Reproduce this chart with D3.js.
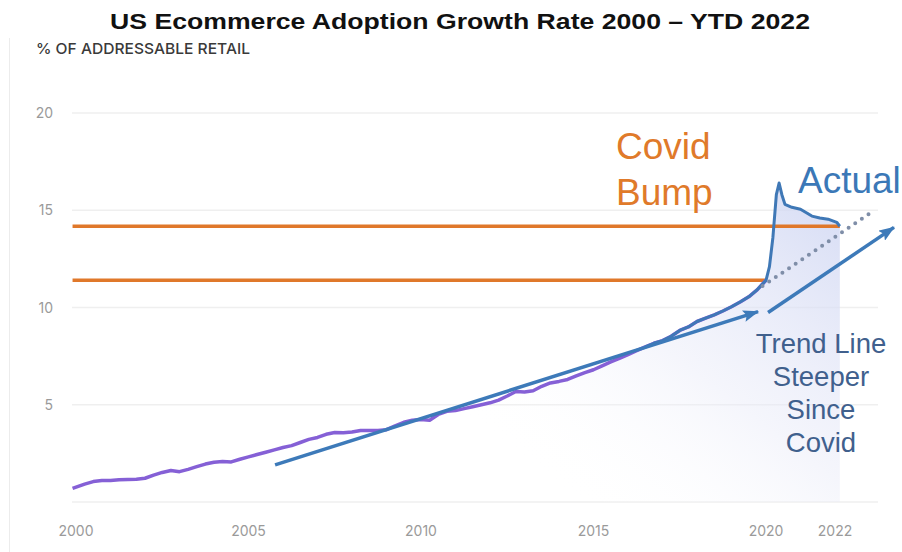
<!DOCTYPE html>
<html>
<head>
<meta charset="utf-8">
<script src="https://cdn.jsdelivr.net/npm/d3@7"></script>
<style>
  body { margin: 0; background: #fff; }
  svg { display: block; }
</style>
</head>
<body>
<script>
// US ecommerce share of addressable retail (quarterly-ish)
const years = [
  1999.9, 2000.25, 2000.5, 2000.75, 2001, 2001.25, 2001.5, 2001.75,
  2002, 2002.25, 2002.5, 2002.75, 2003, 2003.25, 2003.5, 2003.75,
  2004, 2004.25, 2004.5, 2004.75, 2005, 2005.25, 2005.5, 2005.75,
  2006, 2006.25, 2006.5, 2006.75, 2007, 2007.25, 2007.5, 2007.75,
  2008, 2008.25, 2008.5, 2008.75, 2009, 2009.25, 2009.5, 2009.75,
  2010, 2010.25, 2010.5, 2010.75, 2011, 2011.25, 2011.5, 2011.75,
  2012, 2012.25, 2012.5, 2012.75, 2013, 2013.25, 2013.5, 2013.75,
  2014, 2014.25, 2014.5, 2014.75, 2015, 2015.25, 2015.5, 2015.75,
  2016, 2016.25, 2016.5, 2016.75, 2017, 2017.25, 2017.5, 2017.75,
  2018, 2018.25, 2018.5, 2018.75, 2019, 2019.25, 2019.5, 2019.75,
  2020, 2020.1, 2020.2, 2020.3, 2020.38, 2020.46, 2020.55, 2020.75,
  2021, 2021.33, 2021.56, 2021.8, 2022.05, 2022.14
];
const shares = [
  0.70, 0.92, 1.05, 1.10, 1.10, 1.14, 1.16, 1.17,
  1.22, 1.38, 1.52, 1.62, 1.56, 1.68, 1.82, 1.95,
  2.04, 2.08, 2.06, 2.20, 2.32, 2.44, 2.56, 2.68,
  2.80, 2.90, 3.06, 3.22, 3.32, 3.48, 3.57, 3.56,
  3.60, 3.68, 3.67, 3.68, 3.72, 3.92, 4.10, 4.20,
  4.24, 4.20, 4.50, 4.66, 4.70, 4.80, 4.90, 5.00,
  5.10, 5.24, 5.45, 5.68, 5.66, 5.72, 5.95, 6.12,
  6.20, 6.30, 6.48, 6.65, 6.80, 7.00, 7.20, 7.38,
  7.58, 7.78, 7.98, 8.16, 8.30, 8.52, 8.82, 9.00,
  9.28, 9.45, 9.62, 9.82, 10.04, 10.28, 10.55, 10.92,
  11.40, 12.10, 13.60, 15.80, 16.40, 15.80, 15.30, 15.15,
  15.05, 14.70, 14.60, 14.54, 14.38, 14.18
];

const xTickYears = [2000, 2005, 2010, 2015, 2020, 2022];
const yTickValues = [5, 10, 15, 20];
const gridValues = [0, 5, 10, 15, 20];

// covid bump levels (pre-covid level and current level)
const bumpLevels = [
  { value: 11.40, until: 2020 },
  { value: 14.18, until: 2022.14 }
];
// hand drawn trend arrows [from, to] as [year, value]
const trendArrows = [
  [[2005.77, 1.91], [2019.77, 9.79]],
  [[2020.06, 9.74], [2023.71, 14.12]]
];
const dottedTrend = [[2019.9, 11.1], [2023.1, 14.95]];
const blueFrom = 2016.5;

const data = years.map((yr, i) => ({ year: yr, value: shares[i] }));

const svg = d3.select('body').append('svg')
  .attr('width', 902)
  .attr('height', 552);

const x = d3.scaleLinear().domain([2000, 2022]).range([76, 835]);
const y = d3.scaleLinear().domain([0, 20]).range([502, 113]);

const defs = svg.append('defs');
const grad = defs.append('linearGradient')
  .attr('id', 'fillGrad')
  .attr('gradientUnits', 'userSpaceOnUse')
  .attr('x1', 820).attr('y1', 190)
  .attr('x2', 580).attr('y2', 505);
grad.append('stop').attr('offset', 0).attr('stop-color', '#d0d7f3').attr('stop-opacity', 0.85);
grad.append('stop').attr('offset', 0.55).attr('stop-color', '#e8eaf8').attr('stop-opacity', 0.45);
grad.append('stop').attr('offset', 1).attr('stop-color', '#ffffff').attr('stop-opacity', 0);

defs.append('marker')
  .attr('id', 'head')
  .attr('markerUnits', 'userSpaceOnUse')
  .attr('viewBox', '0 0 16 12')
  .attr('refX', 15).attr('refY', 6)
  .attr('markerWidth', 16).attr('markerHeight', 12)
  .attr('orient', 'auto')
  .append('path')
  .attr('d', 'M0,0 L16,6 L0,12 L3,6 Z')
  .attr('fill', '#3d7ab9');

// faint frame line on the left
svg.append('line')
  .attr('x1', 9.5).attr('x2', 9.5)
  .attr('y1', 38).attr('y2', 552)
  .attr('stroke', '#ececec');

// gridlines
svg.selectAll('line.grid')
  .data(gridValues)
  .enter()
  .append('line')
  .attr('class', 'grid')
  .attr('x1', 72).attr('x2', 878)
  .attr('y1', d => y(d)).attr('y2', d => y(d))
  .attr('stroke', '#efefef')
  .attr('stroke-width', 1.5);

// y labels
svg.selectAll('text.ylab')
  .data(yTickValues)
  .enter()
  .append('text')
  .attr('class', 'ylab')
  .attr('x', 53)
  .attr('y', d => y(d) + 5)
  .attr('text-anchor', 'end')
  .attr('font-family', 'Inter, sans-serif')
  .attr('font-size', 14)
  .attr('fill', '#9a9a9a')
  .text(d => d);

// x labels
svg.selectAll('text.xlab')
  .data(xTickYears)
  .enter()
  .append('text')
  .attr('class', 'xlab')
  .attr('x', d => x(d))
  .attr('y', 536)
  .attr('text-anchor', 'middle')
  .attr('font-family', 'Inter, sans-serif')
  .attr('font-size', 14)
  .attr('fill', '#9a9a9a')
  .text(d => d);

// area under the curve
const area = d3.area()
  .x(d => x(d.year))
  .y0(y(0))
  .y1(d => y(d.value));
svg.append('path')
  .datum(data)
  .attr('d', area)
  .attr('fill', 'url(#fillGrad)');

// orange covid bump levels
svg.selectAll('line.bump')
  .data(bumpLevels)
  .enter()
  .append('line')
  .attr('class', 'bump')
  .attr('x1', x(1999.9)).attr('x2', d => x(d.until))
  .attr('y1', d => y(d.value)).attr('y2', d => y(d.value))
  .attr('stroke', '#e0782a')
  .attr('stroke-width', 3.5);

const line = d3.line()
  .x(d => x(d.year))
  .y(d => y(d.value));

// purple original line
svg.append('path')
  .datum(data.filter(d => d.year <= 2020))
  .attr('d', line)
  .attr('fill', 'none')
  .attr('stroke', '#8560d6')
  .attr('stroke-width', 3.5)
  .attr('stroke-linejoin', 'round');

// blue "actual" trace on top
svg.append('path')
  .datum(data.filter(d => d.year >= blueFrom))
  .attr('d', line)
  .attr('fill', 'none')
  .attr('stroke', '#3f78b6')
  .attr('stroke-width', 3)
  .attr('stroke-linejoin', 'round');

// dotted extrapolation
svg.append('path')
  .datum(dottedTrend)
  .attr('d', d3.line().x(d => x(d[0])).y(d => y(d[1])))
  .attr('fill', 'none')
  .attr('stroke', '#7f8ea8')
  .attr('stroke-width', 4)
  .attr('stroke-linecap', 'round')
  .attr('stroke-dasharray', '0 8');

// trend arrows
svg.selectAll('path.arrow')
  .data(trendArrows)
  .enter()
  .append('path')
  .attr('class', 'arrow')
  .attr('d', d3.line().x(d => x(d[0])).y(d => y(d[1])))
  .attr('fill', 'none')
  .attr('stroke', '#3d7ab9')
  .attr('stroke-width', 3.5)
  .attr('marker-end', 'url(#head)');

// title + axis caption (the source picture is stretched sideways)
svg.append('text')
  .attr('x', 460).attr('y', 29)
  .attr('text-anchor', 'middle')
  .attr('font-family', 'Arial, "Liberation Sans", sans-serif')
  .attr('font-weight', 'bold')
  .attr('font-size', 21.5)
  .attr('fill', '#111')
  .attr('textLength', 700)
  .attr('lengthAdjust', 'spacingAndGlyphs')
  .text('US Ecommerce Adoption Growth Rate 2000 \u2013 YTD 2022');

svg.append('text')
  .attr('x', 36).attr('y', 54)
  .attr('font-family', 'Inter, sans-serif')
  .attr('font-weight', 500)
  .attr('font-size', 15)
  .attr('fill', '#3a3a3a')
  .attr('textLength', 214)
  .attr('lengthAdjust', 'spacingAndGlyphs')
  .text('% OF ADDRESSABLE RETAIL');

// annotations
const covidBump = svg.append('text')
  .attr('font-family', 'Arial, "Liberation Sans", sans-serif')
  .attr('font-size', 37)
  .attr('fill', '#e07a2a');
covidBump.append('tspan').attr('x', 616).attr('y', 159).text('Covid');
covidBump.append('tspan').attr('x', 616).attr('y', 205).text('Bump');

svg.append('text')
  .attr('x', 798).attr('y', 193)
  .attr('font-family', 'Arial, "Liberation Sans", sans-serif')
  .attr('font-size', 37)
  .attr('fill', '#3b78b7')
  .text('Actual');

const trendText = svg.append('text')
  .attr('text-anchor', 'middle')
  .attr('font-family', 'Arial, "Liberation Sans", sans-serif')
  .attr('font-size', 27.5)
  .attr('fill', '#40608d');
['Trend Line', 'Steeper', 'Since', 'Covid'].forEach((t, i) => {
  trendText.append('tspan').attr('x', 821).attr('y', 353 + i * 33).text(t);
});
</script>
</body>
</html>
